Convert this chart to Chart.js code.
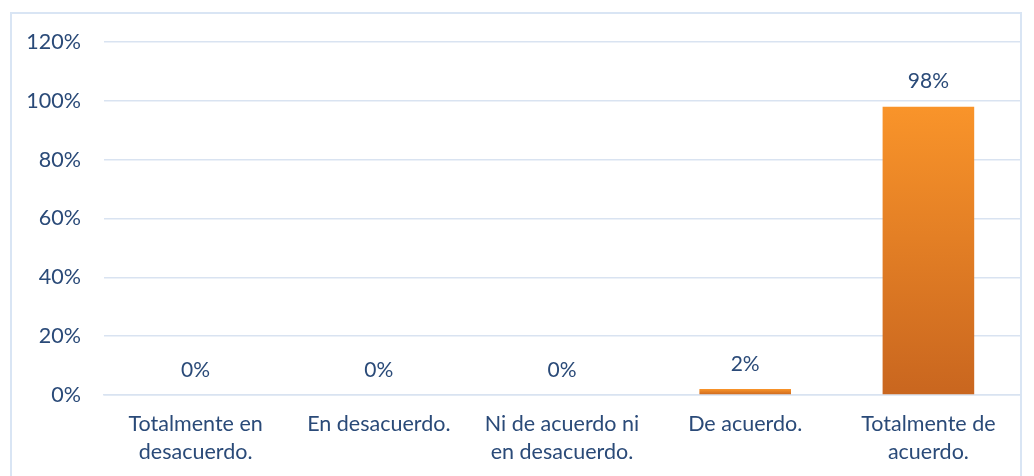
<!DOCTYPE html>
<html>
<head>
<meta charset="utf-8">
<script src="https://cdn.jsdelivr.net/npm/chart.js@4/dist/chart.umd.min.js"></script>
<style>
  body { margin: 0; background: #fff; }
  #frame { position: absolute; left: 10px; top: 12px; width: 1008px; height: 480px; border: 2px solid #D9E5F4; }
  #wrap { position: absolute; left: 0; top: 0; width: 1034px; height: 476px; }
</style>
</head>
<body>
<div id="frame"></div>
<div id="wrap"><canvas id="myChart"></canvas></div>
<script>
var categories = [
  ['Totalmente en', 'desacuerdo.'],
  'En desacuerdo.',
  ['Ni de acuerdo ni', 'en desacuerdo.'],
  'De acuerdo.',
  ['Totalmente de', 'acuerdo.']
];
var percentages = [0, 0, 0, 2, 98];

var textColor = '#2A4A78';
var gridColor = '#D9E3F1';

// draws the "x%" labels above each bar
var valueLabels = {
  id: 'valueLabels',
  afterDatasetsDraw: function (chart) {
    var ctx = chart.ctx;
    var meta = chart.getDatasetMeta(0);
    ctx.save();
    ctx.font = '21px Lato';
    ctx.fillStyle = textColor;
    ctx.textAlign = 'center';
    ctx.textBaseline = 'middle';
    meta.data.forEach(function (bar, i) {
      ctx.fillText(percentages[i] + '%', bar.x, bar.y - 25);
    });
    ctx.restore();
  }
};

function barGradient(context) {
  var chart = context.chart;
  if (!chart.chartArea) return '#F7922A';
  var y = chart.scales.y;
  var top = y.getPixelForValue(context.raw);
  var base = y.getPixelForValue(0);
  if (base - top < 1) return '#F7922A';
  var g = chart.ctx.createLinearGradient(0, top, 0, base);
  g.addColorStop(0, '#F9942A');
  g.addColorStop(1, '#C9661F');
  return g;
}

var ctx = document.getElementById('myChart').getContext('2d');
var myChart = new Chart(ctx, {
  type: 'bar',
  data: {
    labels: categories,
    datasets: [{
      data: percentages,
      backgroundColor: barGradient,
      borderWidth: 0,
      barPercentage: 0.5,
      categoryPercentage: 1
    }]
  },
  options: {
    responsive: true,
    maintainAspectRatio: false,
    animation: false,
    layout: { padding: { left: 0, right: 14, top: 42, bottom: 0 } },
    plugins: {
      legend: { display: false },
      tooltip: { enabled: false }
    },
    scales: {
      x: {
        afterFit: function (scale) { scale.height = 81; },
        grid: { display: false, drawTicks: false },
        border: { color: gridColor, width: 1.5 },
        ticks: {
          color: textColor,
          font: { family: 'Lato', size: 21.5, lineHeight: 1.26 },
          padding: 16,
          maxRotation: 0,
          autoSkip: false
        }
      },
      y: {
        min: 0,
        max: 120,
        afterFit: function (scale) { scale.width = 104; },
        grid: { color: gridColor, lineWidth: 1.5, drawTicks: false },
        border: { display: false },
        ticks: {
          stepSize: 20,
          color: textColor,
          font: { family: 'Lato', size: 21.5 },
          padding: 23,
          callback: function (v) { return v + '%'; }
        }
      }
    }
  },
  plugins: [valueLabels]
});
</script>
</body>
</html>
